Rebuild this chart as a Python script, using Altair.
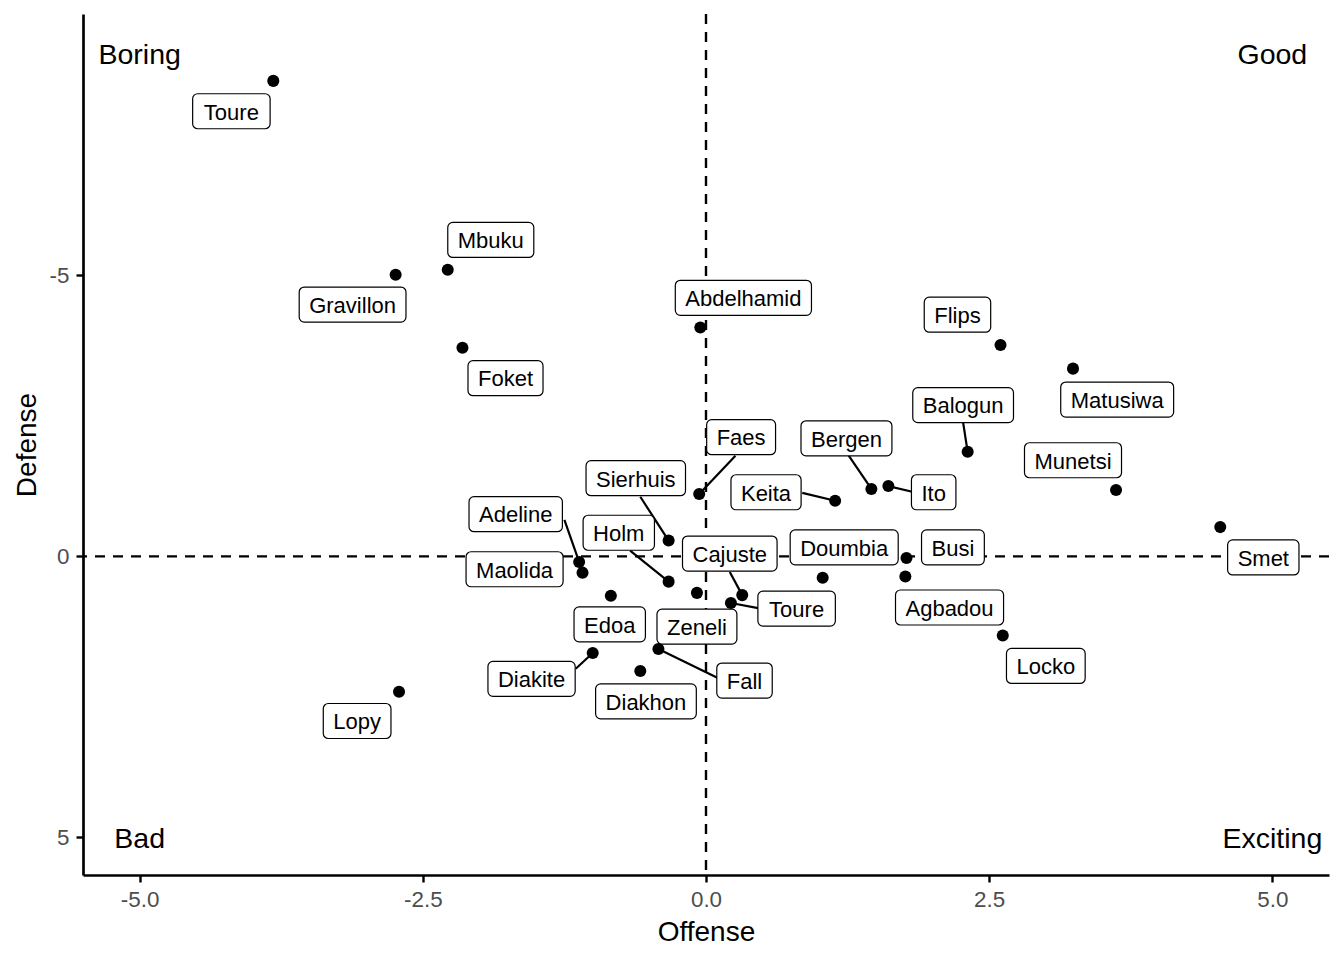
import altair as alt
import pandas as pd

# ---------------- data ----------------
players = ["Toure", "Gravillon", "Mbuku", "Foket", "Abdelhamid", "Flips", "Matusiwa",
           "Balogun", "Bergen", "Ito", "Keita", "Munetsi", "Smet", "Faes", "Sierhuis",
           "Adeline", "Maolida", "Holm", "Cajuste", "Toure", "Zeneli", "Doumbia", "Busi",
           "Agbadou", "Locko", "Edoa", "Diakite", "Fall", "Diakhon", "Lopy"]
offense = [-3.82, -2.74, -2.28, -2.15, -0.05, 2.60, 3.24, 2.31, 1.46, 1.61, 1.14, 3.62,
           4.54, -0.06, -0.33, -1.12, -1.09, -0.33, 0.32, 0.22, -0.08, 1.03, 1.77, 1.76,
           2.62, -0.84, -1.00, -0.42, -0.58, -2.71]
defense = [-8.46, -5.01, -5.10, -3.71, -4.07, -3.76, -3.34, -1.86, -1.20, -1.25, -0.99,
           -1.18, -0.52, -1.11, -0.28, 0.10, 0.29, 0.45, 0.69, 0.83, 0.65, 0.38, 0.03,
           0.36, 1.41, 0.70, 1.72, 1.65, 2.04, 2.41]
# repelled label positions (centre of each label box)
label_x = [-4.19, -3.12, -1.90, -1.77, 0.33, 2.22, 3.63, 2.27, 1.24, 2.01, 0.53, 3.24,
           4.92, 0.31, -0.62, -1.68, -1.69, -0.77, 0.21, 0.80, -0.08, 1.22, 2.18, 2.15,
           3.00, -0.85, -1.54, 0.34, -0.53, -3.08]
label_y = [-7.92, -4.48, -5.63, -3.17, -4.60, -4.30, -2.79, -2.69, -2.10, -1.14, -1.14,
           -1.71, 0.02, -2.12, -1.39, -0.75, 0.23, -0.42, -0.05, 0.93, 1.25, -0.16, -0.16,
           0.91, 1.95, 1.21, 2.18, 2.21, 2.58, 2.93]
# connector segment end points (None = no segment)
seg_x = [None, None, None, None, None, None, None, 2.27, 1.26, 1.82, 0.85, None,
         None, 0.26, -0.58, -1.25, None, -0.67, 0.21, 0.46, None, None, None, None,
         None, None, -1.15, 0.10, None, None]
seg_y = [None, None, None, None, None, None, None, -2.38, -1.79, -1.15, -1.13, None,
         None, -1.79, -1.06, -0.65, None, -0.10, 0.28, 0.92, None, None, None, None,
         None, None, 2.00, 2.16, None, None]

corner_text = ["Boring", "Good", "Bad", "Exciting"]
corner_x = [-5, 5, -5, 5]
corner_y = [-8.95, -8.95, 5, 5]

x_ticks = [-5, -2.5, 0, 2.5, 5]
y_ticks = [-5, 0, 5]

# ---------------- layout ----------------
X_DOMAIN = [-5.5, 5.5]
Y_DOMAIN = [-9.65, 5.67]
W, H = 1246, 861
FONT = "Liberation Sans"
LABEL_SIZE = 22
PAD_X = 10
BOX_H = 35

ARIAL = {
    'A': 667, 'B': 667, 'C': 722, 'D': 722, 'E': 667, 'F': 611, 'G': 778, 'H': 722,
    'I': 278, 'J': 500, 'K': 667, 'L': 556, 'M': 833, 'N': 722, 'O': 778, 'P': 667,
    'Q': 778, 'R': 722, 'S': 667, 'T': 611, 'U': 722, 'V': 667, 'W': 944, 'X': 667,
    'Y': 667, 'Z': 611, 'a': 556, 'b': 556, 'c': 500, 'd': 556, 'e': 556, 'f': 278,
    'g': 556, 'h': 556, 'i': 222, 'j': 222, 'k': 500, 'l': 222, 'm': 833, 'n': 556,
    'o': 556, 'p': 556, 'q': 556, 'r': 333, 's': 500, 't': 278, 'u': 556, 'v': 500,
    'w': 722, 'x': 500, 'y': 500, 'z': 500, ' ': 278}


def text_w(s):
    return sum(ARIAL.get(c, 556) for c in s) / 1000 * LABEL_SIZE


px_x = W / (X_DOMAIN[1] - X_DOMAIN[0])
px_y = H / (Y_DOMAIN[1] - Y_DOMAIN[0])

df = pd.DataFrame({"player": players, "offense": offense, "defense": defense,
                   "lx": label_x, "ly": label_y, "sx": seg_x, "sy": seg_y})
half_w = [(text_w(n) / 2 + PAD_X) / px_x for n in players]
half_h = (BOX_H / 2) / px_y
df["bx1"] = df["lx"] - half_w
df["bx2"] = df["lx"] + half_w
df["by1"] = df["ly"] - half_h
df["by2"] = df["ly"] + half_h

seg_df = df.dropna(subset=["sx", "sy"])
corner_df = pd.DataFrame({"text": corner_text, "x": corner_x, "y": corner_y})
zero_df = pd.DataFrame({"v": [0]})

xscale = alt.Scale(domain=X_DOMAIN, nice=False, zero=False)
yscale = alt.Scale(domain=Y_DOMAIN, reverse=True, nice=False, zero=False)
xaxis = alt.Axis(values=x_ticks, labelFlush=False, labelOverlap=False,
                 labelExpr="(datum.value < 0 ? '-' : '') + format(abs(datum.value), '.1f')",
                 titleY=57, titleBaseline="middle")
yaxis = alt.Axis(values=y_ticks, labelFlush=False, labelOverlap=False,
                 labelExpr="(datum.value < 0 ? '-' : '') + format(abs(datum.value), 'd')",
                 titleX=-56, titleBaseline="middle")


def X(f):
    return alt.X(f, type="quantitative", scale=xscale, axis=xaxis, title="Offense")


def Y(f):
    return alt.Y(f, type="quantitative", scale=yscale, axis=yaxis, title="Defense")


vline = alt.Chart(zero_df).mark_rule(color="black", strokeWidth=2.4, strokeDash=[10, 8]).encode(
    x=X("v"))
hline = alt.Chart(zero_df).mark_rule(color="black", strokeWidth=2.4, strokeDash=[10, 8]).encode(
    y=Y("v"))

segments = alt.Chart(seg_df).mark_rule(color="black", strokeWidth=2.2).encode(
    x=X("offense"), y=Y("defense"), x2="sx", y2="sy")

points = alt.Chart(df).mark_circle(color="black", size=145, opacity=1).encode(
    x=X("offense"), y=Y("defense"))

boxes = alt.Chart(df).mark_rect(fill="white", stroke="black", strokeWidth=1.2,
                                cornerRadius=5).encode(
    x=X("bx1"), x2="bx2", y=Y("by1"), y2="by2")

labels = alt.Chart(df).mark_text(font=FONT, fontSize=LABEL_SIZE, color="black",
                                 align="center", baseline="middle", dy=1.3).encode(
    x=X("lx"), y=Y("ly"), text="player")

corners = alt.Chart(corner_df).mark_text(font=FONT, fontSize=28.5, color="black",
                                         align="center", baseline="middle", dy=1.5).encode(
    x=X("x"), y=Y("y"), text="text")

chart = alt.layer(vline, hline, points, segments, boxes, labels, corners).properties(
    width=W, height=H,
    padding={"left": 75, "top": 6, "right": 4, "bottom": 70},
    autosize=alt.AutoSizeParams(type="none"),
).configure(font=FONT, background="white").configure_view(strokeWidth=0).configure_axis(
    grid=False, domainColor="black", domainWidth=2.7, tickColor="black", tickWidth=2.4,
    tickSize=7, labelColor="#4D4D4D", labelFont=FONT, labelFontSize=22.4, labelPadding=6,
    titleFont=FONT, titleFontSize=28, titleFontWeight="normal", titleColor="black",
).configure_axisY(labelPadding=7)

chart.save("out.html", embed_options={"renderer": "svg", "actions": False})
